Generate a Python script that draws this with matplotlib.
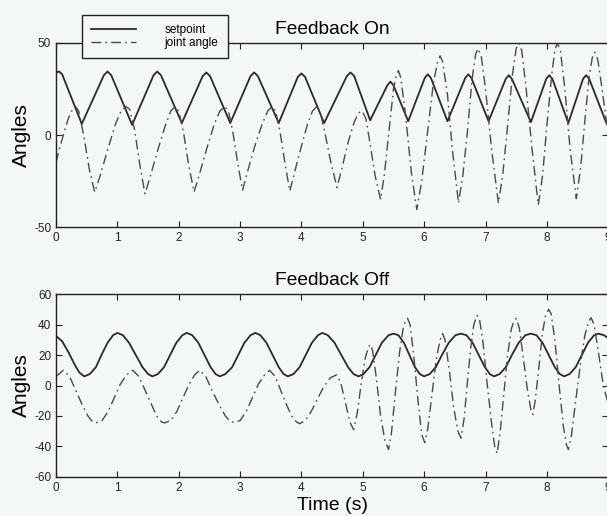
import matplotlib
matplotlib.use('Agg')
import matplotlib.pyplot as plt

plt.rcParams['font.family'] = ['Liberation Sans', 'DejaVu Sans']
plt.rcParams['axes.unicode_minus'] = False

# ---- Feedback On: setpoint (triangular wave) ----
on_set_t = [0.00, 0.05, 0.10, 0.42,
            0.78, 0.84, 0.90, 1.24, 1.59, 1.65, 1.71, 2.05,
            2.39, 2.45, 2.51, 2.84, 3.17, 3.23, 3.29, 3.63,
            3.94, 4.00, 4.06, 4.37, 4.74, 4.80, 4.86, 5.12,
            5.40, 5.45, 5.50, 5.74, 6.01, 6.06, 6.11, 6.38,
            6.67, 6.72, 6.77, 7.05, 7.33, 7.38, 7.43, 7.74,
            7.99, 8.04, 8.09, 8.35, 8.59, 8.64, 8.69, 8.97, 9.00]
on_set_v = [34, 34.5, 33, 6,
            32.5, 34.5, 32.5, 5.5, 32.5, 34.5, 32.5, 6.5,
            32, 34, 32, 6.5, 32, 34, 32, 6.5,
            31.5, 33.5, 31.5, 6.5, 32, 34, 32, 8,
            27, 29, 27, 7.5, 31, 33, 31, 7.5,
            31, 33, 31, 7.5, 30.5, 32.5, 30.5, 7,
            30.5, 32.5, 30.5, 6.5, 30.5, 32.5, 30.5, 6.5, 7.5]

# ---- Feedback On: joint angle ----
on_joint_t = [0.00, 0.05, 0.12, 0.20, 0.27, 0.32, 0.37, 0.45, 0.55, 0.63,
              0.72, 0.85, 0.97, 1.06, 1.14, 1.20, 1.28, 1.37, 1.45,
              1.54, 1.66, 1.78, 1.87, 1.94, 2.00, 2.08, 2.16, 2.25,
              2.34, 2.46, 2.58, 2.67, 2.75, 2.81, 2.88, 2.96, 3.04,
              3.12, 3.24, 3.36, 3.45, 3.52, 3.58, 3.65, 3.73, 3.81,
              3.89, 4.00, 4.10, 4.18, 4.25, 4.31, 4.39, 4.48, 4.58,
              4.66, 4.76, 4.86, 4.93, 4.99, 5.05, 5.12, 5.20, 5.29,
              5.35, 5.42, 5.50, 5.55, 5.58, 5.62, 5.70, 5.79, 5.88,
              5.96, 6.05, 6.15, 6.22, 6.26, 6.30, 6.38, 6.46, 6.56,
              6.63, 6.70, 6.78, 6.84, 6.88, 6.93, 7.00, 7.10, 7.21,
              7.28, 7.36, 7.44, 7.50, 7.54, 7.59, 7.66, 7.76, 7.86,
              7.93, 8.00, 8.08, 8.13, 8.17, 8.22, 8.29, 8.38, 8.48,
              8.55, 8.62, 8.69, 8.74, 8.78, 8.83, 8.90, 9.00]
on_joint_v = [-15, -8, 0, 9, 14, 15.5, 13, 0, -20, -31,
              -22, -7, 6, 13, 15.5, 14, 3, -17, -32,
              -22, -8, 5, 13, 15.5, 13, 1, -16, -31,
              -21, -7, 6, 13, 15.5, 13, 2, -15, -30,
              -20, -6, 6, 13, 15.5, 13, 2, -15, -30.5,
              -20, -6, 6, 13, 15.5, 12, 0, -15, -28.5,
              -18, -4, 7, 12, 13, 9, -5, -22, -35,
              -22, 0, 25, 33, 35, 31, 10, -20, -40.5,
              -25, 0, 28, 40, 43, 40, 22, -8, -37,
              -22, 0, 30, 44, 47, 43, 25, -8, -37,
              -22, 5, 33, 47, 50, 46, 26, -8, -38,
              -22, 5, 33, 46, 50, 46, 26, -8, -34.5,
              -18, 8, 32, 42, 45, 41, 25, 0]

# ---- Feedback Off: setpoint ----
off_set_t = [0.00, 0.10, 0.20, 0.30, 0.38, 0.46, 0.55, 0.65, 0.74, 0.84, 0.93, 1.00,
             1.09, 1.19, 1.30, 1.41, 1.50, 1.57, 1.66, 1.76, 1.86, 1.96, 2.06, 2.13,
             2.22, 2.32, 2.42, 2.52, 2.60, 2.67, 2.76, 2.87, 2.97, 3.07, 3.17, 3.25,
             3.33, 3.43, 3.53, 3.63, 3.71, 3.78, 3.87, 3.97, 4.07, 4.17, 4.27, 4.34,
             4.43, 4.54, 4.65, 4.76, 4.85, 4.93, 5.01, 5.11, 5.21, 5.31, 5.42, 5.50,
             5.58, 5.67, 5.76, 5.85, 5.93, 6.00, 6.09, 6.19, 6.29, 6.40, 6.51, 6.60,
             6.69, 6.79, 6.89, 6.99, 7.07, 7.14, 7.23, 7.33, 7.43, 7.54, 7.65, 7.74,
             7.83, 7.93, 8.03, 8.13, 8.21, 8.28, 8.37, 8.47, 8.57, 8.67, 8.77, 8.84,
             8.93, 9.00]
off_set_v = [32.5, 29, 22, 14, 8.5, 6, 7.5, 12, 20, 28, 33, 34.5,
             33, 28, 20, 12, 7.5, 6, 7.5, 12, 20, 28, 33, 34.5,
             33, 28, 20, 12, 7.5, 6, 7.5, 12, 20, 28, 33, 34.5,
             33, 28, 20, 12, 7.5, 6, 7.5, 12, 20, 28, 33, 34.5,
             33, 28, 20, 12, 7.5, 6, 7.5, 12, 20, 28, 33, 34,
             33, 28, 20, 12, 7.5, 6, 7.5, 12, 20, 28, 33, 34,
             33, 28, 20, 12, 7.5, 6, 7.5, 12, 20, 28, 33, 34,
             33, 28, 20, 12, 7.5, 6, 7.5, 12, 20, 28, 33, 34,
             33, 31]

# ---- Feedback Off: joint angle ----
off_joint_t = [0.00, 0.12, 0.22, 0.32, 0.42, 0.52, 0.60, 0.65, 0.75, 0.85, 0.95, 1.05, 1.15, 1.25,
               1.35, 1.45, 1.55, 1.64, 1.72, 1.77, 1.87, 1.97, 2.07, 2.17, 2.26, 2.34,
               2.44, 2.54, 2.65, 2.76, 2.85, 2.91, 3.00, 3.10, 3.20, 3.30, 3.40, 3.48,
               3.57, 3.66, 3.75, 3.84, 3.92, 3.97, 4.06, 4.16, 4.26, 4.36, 4.47, 4.57,
               4.64, 4.72, 4.79, 4.85, 4.91, 4.97, 5.04, 5.09, 5.12, 5.16, 5.22, 5.29,
               5.36, 5.42, 5.47, 5.53, 5.60, 5.66, 5.70, 5.73, 5.77, 5.83, 5.90, 5.96,
               6.01, 6.06, 6.13, 6.20, 6.26, 6.30, 6.34, 6.41, 6.48, 6.55, 6.60, 6.65,
               6.70, 6.76, 6.81, 6.86, 6.90, 6.96, 7.03, 7.10, 7.15, 7.19, 7.24, 7.30,
               7.36, 7.42, 7.46, 7.50, 7.55, 7.61, 7.68, 7.74, 7.77, 7.81, 7.87, 7.93,
               7.98, 8.03, 8.07, 8.13, 8.20, 8.27, 8.32, 8.35, 8.40, 8.47, 8.55, 8.62,
               8.68, 8.72, 8.77, 8.84, 8.92, 9.00]
off_joint_v = [6, 10, 6, -3, -12, -20, -24, -24.5, -23, -17, -8, 1, 7, 10,
               6, -3, -12, -20, -24, -24.5, -23, -17, -8, 1, 7, 10,
               6, -3, -12, -20, -24, -24, -23, -17, -8, 1, 7, 10,
               6, -3, -12, -20, -24, -25, -23, -17, -9, -1, 5, 7,
               2, -12, -24, -29, -18, 0, 18, 25, 27, 23, 5, -20,
               -36, -42, -30, -5, 22, 38, 43, 44, 40, 20, -10, -32,
               -37.5, -28, -5, 18, 30, 34, 30, 10, -14, -30, -34.5, -22,
               0, 25, 40, 46, 44, 28, 0, -25, -40, -44.5, -30, -5,
               20, 37, 42, 44, 38, 20, -2, -16, -19, -10, 12, 35,
               46, 50, 47, 30, 0, -27, -39, -42, -33, -10, 15, 33,
               42, 44.5, 40, 22, 0, -12]

bg = '#f4f7f7'
fig = plt.figure(figsize=(6.07, 5.16), dpi=100, facecolor=bg)
# the right border runs off the edge of the scanned page, as in the original
ax1 = fig.add_axes([0.0923, 0.560, 0.9097, 0.3567])
ax2 = fig.add_axes([0.0923, 0.0756, 0.9097, 0.3546])

dashdot = (0, (7, 3, 1.2, 3))
for ax in (ax1, ax2):
    ax.set_facecolor(bg)
    ax.set_xlim(0, 9)
    ax.set_xticks(range(10))
    ax.tick_params(direction='in', top=True, right=True, labelsize=8.5,
                   length=4, width=0.8, pad=3.5, colors='#222222')
    for s in ax.spines.values():
        s.set_linewidth(1.0)
        s.set_color('#222222')
    ax.set_ylabel('Angles', fontsize=15, labelpad=2)

l1, = ax1.plot(on_set_t, on_set_v, color='#2a2a2a', lw=1.3, label='setpoint')
l2, = ax1.plot(on_joint_t, on_joint_v, color='#4a4a4a', lw=1.0, linestyle=dashdot,
               label='joint angle')
ax1.set_ylim(-50, 50)
ax1.set_yticks([-50, 0, 50])
ax1.set_title('Feedback On', fontsize=13.8, pad=6.5)

ax2.plot(off_set_t, off_set_v, color='#2a2a2a', lw=1.3)
ax2.plot(off_joint_t, off_joint_v, color='#4a4a4a', lw=1.0, linestyle=dashdot)
ax2.set_ylim(-60, 60)
ax2.set_yticks(range(-60, 61, 20))
ax2.set_title('Feedback Off', fontsize=13.8, pad=6.5)
ax2.set_xlabel('Time (s)', fontsize=14, labelpad=2.5)

leg = fig.legend(handles=[l1, l2], loc='upper left',
                 bbox_to_anchor=(82 / 607, 1 - 15 / 516), borderaxespad=0,
                 fontsize=8.5, handlelength=3.8, handletextpad=2.4,
                 borderpad=0.8, labelspacing=0.05, fancybox=False,
                 framealpha=1, facecolor=bg, edgecolor='#222222')
leg.get_frame().set_linewidth(1.0)

fig.savefig('out.png', dpi=100, facecolor=bg)
